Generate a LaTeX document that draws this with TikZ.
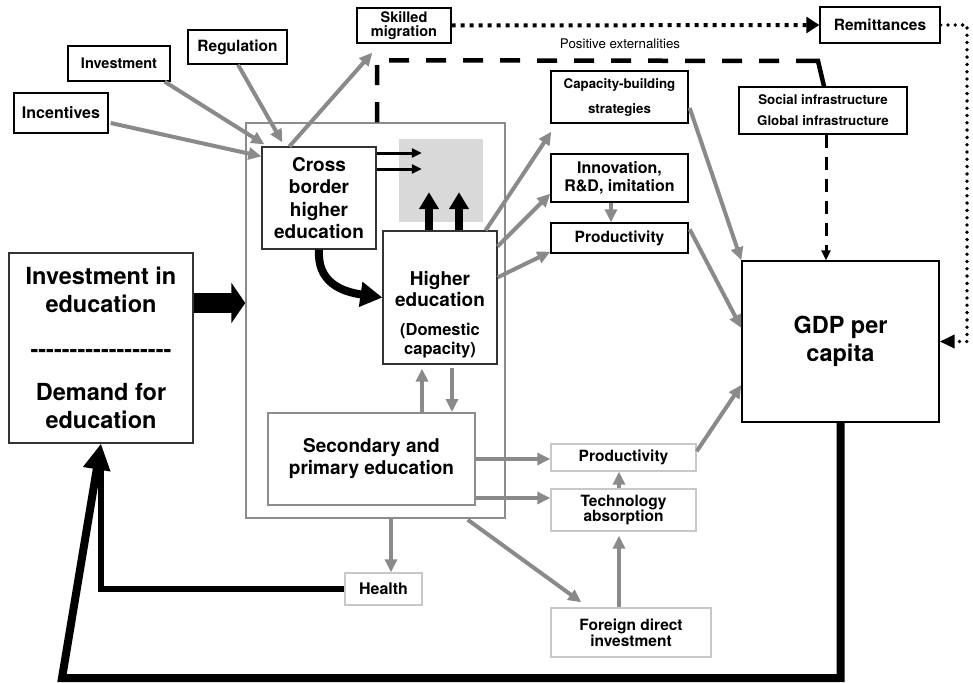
\documentclass[tikz,border=0pt]{standalone}
\usepackage{fontspec}
\setmainfont{TeX Gyre Heros}
\usetikzlibrary{arrows.meta,calc}
\definecolor{arrgray}{RGB}{138,138,138}
\definecolor{framegray}{RGB}{140,140,140}
\definecolor{lightframe}{RGB}{200,200,200}
\definecolor{shadegray}{RGB}{217,217,217}
\newcommand{\fsz}[2]{\fontsize{#1}{#2}\selectfont}

\begin{document}
\begin{tikzpicture}[x=1pt,y=-1pt,
  box/.style={draw=black, line width=1.4pt, inner sep=0pt, align=center},
  darkbox/.style={draw=black!80, line width=1.2pt, inner sep=0pt, align=center},
  graybox/.style={draw=framegray, line width=2pt, inner sep=0pt, align=center},
  lightbox/.style={draw=lightframe, line width=1.4pt, inner sep=0pt, align=center},
  txt/.style={inner sep=0pt, align=center},
  garrow/.style={draw=arrgray, line width=4pt, -{Triangle[length=13pt,width=12pt]}},
  thinblack/.style={draw=black, line width=3pt, -{Triangle[length=10pt,width=9pt]}},
  upblack/.style={draw=black, line width=7.5pt, -{Triangle[length=17pt,width=19pt]}},
  squaredots/.style={draw=black, line width=4pt, dash pattern=on 4pt off 5pt},
  rounddots/.style={draw=black, line width=3.8pt, line cap=round, dash pattern=on 0pt off 7.3pt},
  bigdash/.style={draw=black, line width=4.5pt, dash pattern=on 20pt off 17pt},
  smalldash/.style={draw=black, line width=3pt, dash pattern=on 13pt off 9pt},
  feedback/.style={draw=black, line width=8pt, line join=miter}
]
\useasboundingbox (0,0) rectangle (973,682);

% education system frame and shaded target area
\node[draw=framegray, line width=1.5pt, minimum width=259pt, minimum height=395pt, inner sep=0pt] (outer) at (375.5,320.5) {};
\node[fill=shadegray, minimum width=84pt, minimum height=83pt, inner sep=0pt] (shade) at (441,180.5) {};

% policy inputs
\node[box, minimum width=94pt, minimum height=40pt, font=\bfseries\fsz{16}{19}] (incent) at (61,113) {Incentives};
\node[box, minimum width=102pt, minimum height=35pt, font=\bfseries\fsz{14.5}{17}] (invest) at (119,63.5) {Investment};
\node[box, minimum width=99pt, minimum height=34pt, font=\bfseries\fsz{15.5}{18}] (regul) at (237.5,47) {Regulation};
\node[box, minimum width=94pt, minimum height=35pt, font=\bfseries\fsz{14.5}{14}] (skilled) at (404,25.5) {Skilled\\migration};
\node[box, minimum width=120pt, minimum height=36pt, font=\bfseries\fsz{15.5}{18}] (remit) at (880,25) {Remittances};
\node[txt, font=\fsz{13.3}{16}] (posext) at (620,44) {Positive externalities};

% outcome boxes
\node[box, minimum width=137pt, minimum height=52pt, font=\bfseries\fsz{13.3}{25}] (capac) at (619.5,97) {Capacity-building\\strategies};
\node[box, minimum width=137pt, minimum height=48pt, font=\bfseries\fsz{16}{18}] (innov) at (619.5,178) {Innovation,\\R\&D, imitation};
\node[box, minimum width=137pt, minimum height=30pt, font=\bfseries\fsz{15.5}{18}] (prodA) at (619.5,238) {Productivity};
\node[box, minimum width=168pt, minimum height=47pt, font=\bfseries\fsz{13.3}{21}] (social) at (823,110.5) {Social infrastructure\\Global infrastructure};
\node[box, minimum width=197pt, minimum height=161pt, font=\bfseries\fsz{23.5}{28}] (gdp) at (840.5,341.5) {GDP per\\capita};

% education boxes
\node[darkbox, fill=white, minimum width=114pt, minimum height=102pt, font=\bfseries\fsz{19}{22.5}] (cross) at (319,198) {Cross\\border\\higher\\education};
\node[darkbox, fill=white, minimum width=114pt, minimum height=133pt] (higher) at (440,297.5) {};
\node[txt, font=\bfseries\fsz{19}{21}] (highertxt) at (440,289) {Higher\\education};
\node[txt, font=\bfseries\fsz{16.5}{19}] (domtxt) at (440,341) {(Domestic\\capacity)};
\node[graybox, minimum width=207pt, minimum height=92pt, font=\bfseries\fsz{19}{22}] (second) at (371.5,459) {Secondary and\\primary education};
\node[darkbox, minimum width=184pt, minimum height=190pt, font=\bfseries\fsz{23.5}{28}] (ined) at (101,348)
  {Investment in\\education\\[17pt]-{}-{}-{}-{}-{}-{}-{}-{}-{}-{}-{}-{}-{}-{}-{}-{}-{}-\\[15pt]Demand for\\education};

% lower outcome boxes
\node[lightbox, minimum width=145pt, minimum height=27pt, font=\bfseries\fsz{15.5}{18}] (prodB) at (623.5,457.5) {Productivity};
\node[lightbox, minimum width=145pt, minimum height=42pt, font=\bfseries\fsz{15.5}{15}] (tech) at (623.5,510) {Technology\\absorption};
\node[lightbox, minimum width=160pt, minimum height=49pt, font=\bfseries\fsz{15.5}{16}] (fdi) at (631,632.5) {Foreign direct\\investment};
\node[lightbox, minimum width=77pt, minimum height=32pt, font=\bfseries\fsz{16}{18}] (health) at (383.5,589) {Health};

% helper points for routed connectors
\coordinate (dotcorner) at (967,25);
\coordinate (dashturn) at (818,61);
\coordinate (fbcorner) at (62,678);

% gray influence arrows
\draw[garrow] ($(incent.east)+(2,10)$) -- ($(cross.north west)+(0,10)$);
\draw[garrow] ($(invest.south east)+(-6,0)$) -- ($(cross.north west)+(3,-2)$);
\draw[garrow] ($(regul.south)+(0.5,0)$) -- ($(cross.north west)+(21,-4)$);
\draw[garrow] ($(cross.north west)+(28,0)$) -- ($(skilled.south west)+(16,9)$);
\draw[garrow] ($(higher.north east)+(-12,0)$) -- ($(capac.south west)+(1,8)$);
\draw[garrow] ($(higher.north east)+(0,16)$) -- ($(innov.south west)+(0,-9)$);
\draw[garrow] ($(higher.north east)+(0,47)$) -- ($(prodA.south west)+(0,-2)$);
\draw[garrow] ($(innov.south)+(-8.5,0)$) -- ($(prodA.north)+(-8.5,0)$);
\draw[garrow] ($(capac.east)+(1,11)$) -- (gdp.north west);
\draw[garrow] ($(prodA.north east)+(1,7)$) -- ($(gdp.west)+(0,-13.5)$);
\draw[garrow] ($(prodB.north east)+(0,8)$) -- ($(gdp.west)+(0,43.5)$);
\draw[garrow] (second.east) -- (second.east -| prodB.west);
\draw[garrow] ($(second.east)+(0,39)$) -- ($(tech.west)+(0,-12)$);
\draw[garrow] ($(tech.north)+(-4.5,0)$) -- ($(prodB.south)+(-4.5,0)$);
\draw[garrow] ($(fdi.north)+(-12,0)$) -- ($(tech.south)+(-4.5,4)$);
\draw[garrow] ($(outer.south east)+(-38,1)$) -- ($(fdi.north west)+(31,-5)$);
\draw[garrow] ($(outer.south)+(15.5,0)$) -- ($(health.north)+(7.5,0)$);
\draw[garrow] ($(second.north)+(50.5,0)$) -- ($(higher.south)+(-18,4)$);
\draw[garrow] ($(higher.south)+(12,3)$) -- ($(second.north)+(80.5,0)$);

% black flows inside the education system
\draw[draw=black, line width=20pt, -{Triangle[length=14pt,width=40pt]}] ($(ined.east)+(0,-45)$) -- ($(outer.west)+(0,-17.5)$);
\draw[draw=black, line width=8pt, -{Triangle[length=22pt,width=24pt]}] (cross.south) .. controls ($(cross.south)+(-2,32)$) and ($(higher.west)+(-42,-6)$) .. (higher.west);
\draw[upblack] ($(higher.north)+(-11,0)$) -- ($(shade.south)+(-12,-30)$);
\draw[upblack] ($(higher.north)+(19,0)$) -- ($(shade.south)+(18,-30)$);
\draw[thinblack] ($(cross.east)+(0,-45)$) -- ($(shade.west)+(23,-27.5)$);
\draw[thinblack] ($(cross.east)+(0,-29)$) -- ($(shade.west)+(23,-11.5)$);

% migration and remittances
\draw[squaredots, -{Triangle[length=13pt,width=16pt]}] (skilled.east) -- (remit.west);
\draw[rounddots, -{Triangle[length=15pt,width=13pt]}] (remit.east) -- (remit.east -| dotcorner) -- (dotcorner |- gdp.east) -- (gdp.east);

% positive externalities
\draw[bigdash] ($(outer.north)+(1.5,0)$) -- ($(outer.north)+(1.5,-62)$) -- ($(dashturn)+(-14,0)$);
\draw[draw=black, line width=4.5pt, line join=miter] ($(dashturn)+(-14,0)$) -- (dashturn) -- ($(social.north)+(1,0)$);
\draw[smalldash, -{Triangle[length=10pt,width=9pt]}] ($(social.south)+(3,0)$) -- ($(gdp.north)+(-14.5,0)$);

% feedback to investment in education
\draw[feedback, -{Triangle[length=26pt,width=26pt]}] (gdp.south) -- (gdp.south |- fbcorner) -- (fbcorner) -- (ined.south);
\draw[draw=black, line width=6.5pt, line join=miter] (health.west) -- (health.west -| ined.south) -- ($(ined.south)+(0,20)$);
\end{tikzpicture}
\end{document}
